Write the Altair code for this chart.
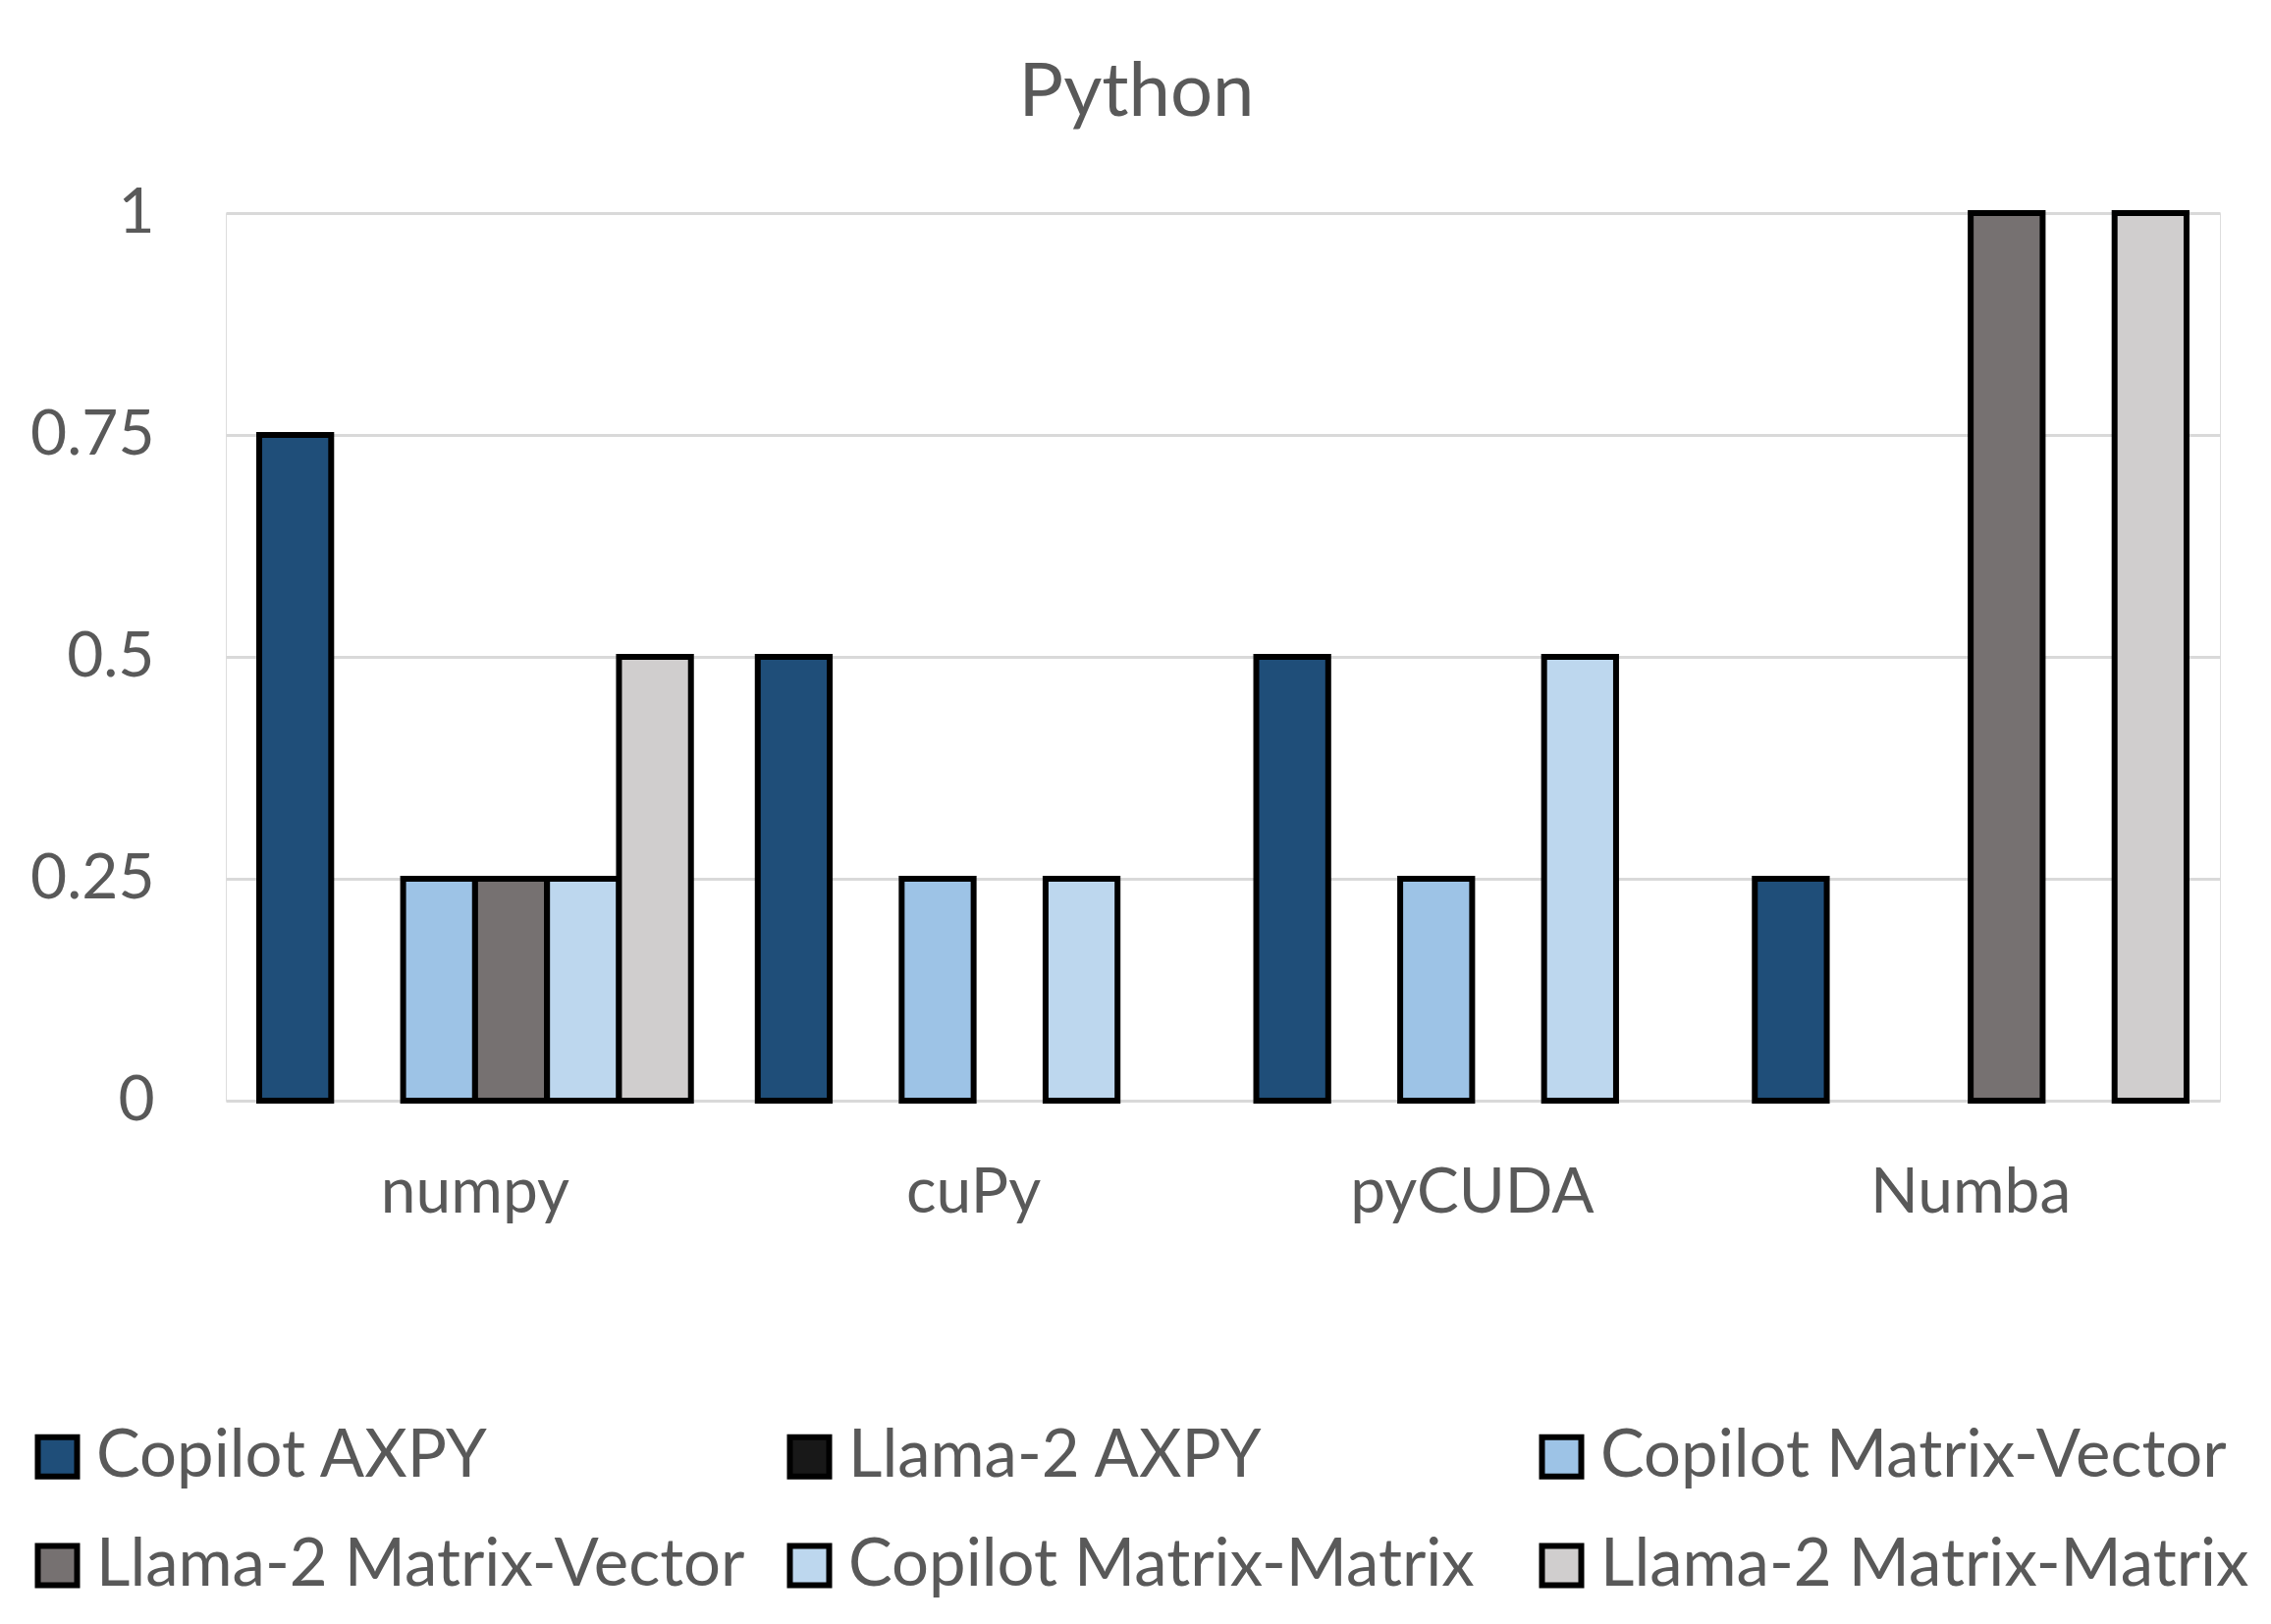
import altair as alt
import pandas as pd

categories = ["numpy", "cuPy", "pyCUDA", "Numba"]
series = [
    "Copilot AXPY",
    "Llama-2 AXPY",
    "Copilot Matrix-Vector",
    "Llama-2 Matrix-Vector",
    "Copilot Matrix-Matrix",
    "Llama-2 Matrix-Matrix",
]
colors = ["#1F4E79", "#181818", "#9DC3E6", "#767171", "#BDD7EE", "#D0CECE"]

copilot_axpy = [0.75, 0.5, 0.5, 0.25]
llama_axpy = [0.0, 0.0, 0.0, 0.0]
copilot_mv = [0.25, 0.25, 0.25, 0.0]
llama_mv = [0.25, 0.0, 0.0, 1.0]
copilot_mm = [0.25, 0.25, 0.5, 0.0]
llama_mm = [0.5, 0.0, 0.0, 1.0]

y_ticks = [0, 0.25, 0.5, 0.75, 1]

values_by_series = [copilot_axpy, llama_axpy, copilot_mv, llama_mv, copilot_mm, llama_mm]
rows = []
for s, vals in zip(series, values_by_series):
    for c, v in zip(categories, vals):
        rows.append({"category": c, "series": s, "value": v})
df = pd.DataFrame(rows)

FONT = "Lato"
TEXT = "#595959"

chart = (
    alt.Chart(df)
    .transform_filter("datum.value > 0")
    .mark_bar(stroke="black", strokeWidth=6, strokeJoin="miter")
    .encode(
        x=alt.X(
            "category:N",
            sort=categories,
            scale=alt.Scale(domain=categories, paddingInner=0.134, paddingOuter=0.067),
            axis=alt.Axis(
                title=None,
                labelAngle=0,
                domain=False,
                ticks=False,
                labelPadding=62,
                labelFontSize=64,
                labelFont=FONT,
                labelColor=TEXT,
                labelLimit=1000,
            ),
        ),
        xOffset=alt.XOffset(
            "series:N",
            sort=series,
            scale=alt.Scale(domain=series, paddingInner=0, paddingOuter=0),
        ),
        y=alt.Y(
            "value:Q",
            scale=alt.Scale(domain=[0, 1], nice=False),
            axis=alt.Axis(
                title=None,
                values=y_ticks,
                format=".2~f",
                domain=False,
                ticks=False,
                grid=True,
                gridColor="#D9D9D9",
                gridWidth=3,
                labelPadding=73,
                labelFontSize=64,
                labelFont=FONT,
                labelColor=TEXT,
            ),
        ),
        color=alt.Color(
            "series:N",
            sort=series,
            scale=alt.Scale(domain=series, range=colors),
            legend=alt.Legend(
                title=None,
                orient="none",
                legendX=-205,
                legendY=1233,
                direction="horizontal",
                columns=3,
                gridAlign="all",
                columnPadding=32,
                rowPadding=43,
                padding=0,
                symbolType="square",
                symbolSize=1600,
                symbolStrokeColor="black",
                symbolStrokeWidth=6,
                symbolOpacity=1,
                labelOffset=6,
                labelFontSize=67,
                labelFont=FONT,
                labelColor=TEXT,
                labelLimit=1000,
            ),
        ),
    )
    .properties(
        width=2031,
        height=904,
        padding={"left": 222, "top": 209, "right": 44, "bottom": 525},
        autosize=alt.AutoSizeParams(type="none"),
        title=alt.TitleParams(
            "Python",
            fontSize=76,
            font=FONT,
            color=TEXT,
            fontWeight="normal",
            anchor="middle",
            frame="group",
            dx=-88,
            offset=51,
        ),
    )
    .configure_view(stroke=None)
    .configure(background="white")
)

chart.save("out.html", embed_options={"renderer": "svg", "actions": False})
